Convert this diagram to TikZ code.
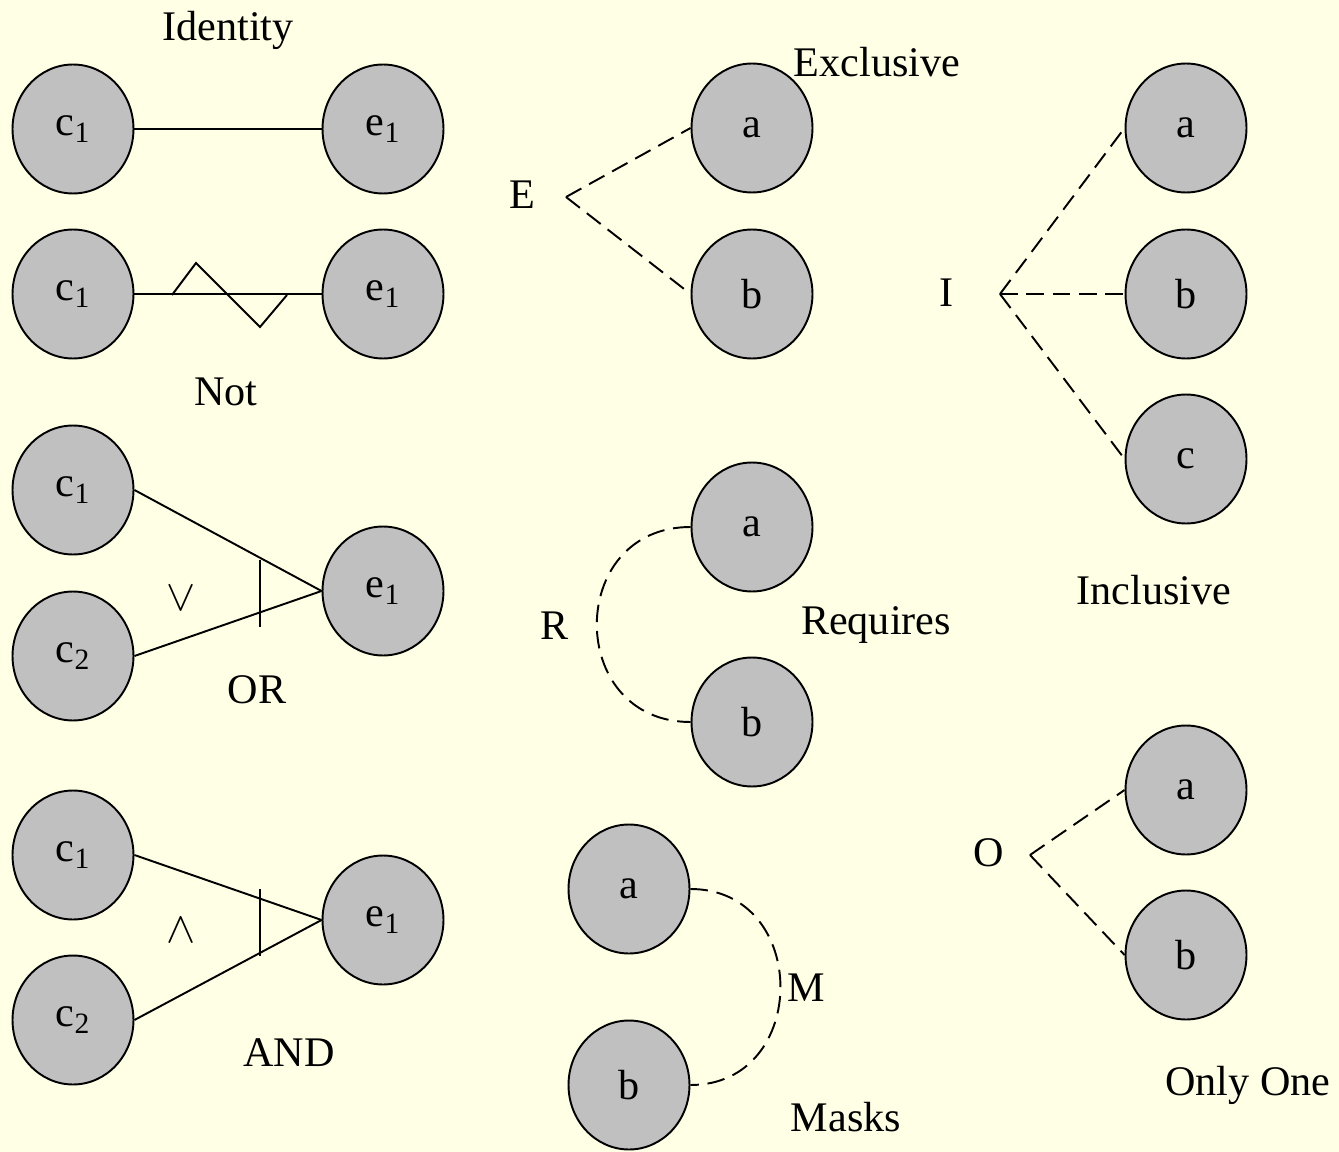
\documentclass[tikz,border=0pt]{standalone}
\usepackage{fontspec}
\setmainfont{Liberation Serif}
\usetikzlibrary{shapes.geometric,calc}
\definecolor{paper}{HTML}{FFFFE6}
\definecolor{ballgray}{HTML}{C0C0C0}

\begin{document}
\begin{tikzpicture}[
  x=0.02cm,y=-0.02cm,
  font=\fontsize{24}{28}\selectfont,
  ball/.style={ellipse,draw=black,fill=ballgray,line width=1.1pt,minimum width=2.42cm,minimum height=2.58cm,inner sep=0pt},
  lbl/.style={inner sep=0pt},
  link/.style={line width=1.1pt},
  dlink/.style={link,dash pattern=on 10pt off 5pt}
]
\fill[paper] (0,0) rectangle (1339,1152);
\useasboundingbox (0,0) rectangle (1339,1152);

% left column: identity, not, or, and
\node[lbl] (tident) at (228,30) {Identity};
\node[ball] (idc) at (73,129) {c\textsubscript{1}};
\node[ball] (ide) at (383,129) {e\textsubscript{1}};
\draw[link] (idc.east) -- (ide.west);

\node[ball] (notc) at (73,294) {c\textsubscript{1}};
\node[ball] (note) at (383,294) {e\textsubscript{1}};
\node[lbl] (tnot) at (226,392) {Not};
\draw[link] (notc.east) -- (note.west);
\draw[link] (172,295) -- (196,263) -- (260,327) -- (287,295);

\node[ball] (orc1) at (73,490) {c\textsubscript{1}};
\node[ball] (orc2) at (73,656) {c\textsubscript{2}};
\node[ball] (ore) at (383,591) {e\textsubscript{1}};
\node[lbl] (torop) at (181,598) {$\vee$};
\node[lbl] (tor) at (257,690) {OR};
\draw[link] (orc1.east) -- (ore.west);
\draw[link] (orc2.east) -- (ore.west);
\draw[link] ($(ore.west)+(-62,-31)$) -- ++(0,67);

\node[ball] (andc1) at (73,855) {c\textsubscript{1}};
\node[ball] (andc2) at (73,1020) {c\textsubscript{2}};
\node[ball] (ande) at (383,920) {e\textsubscript{1}};
\node[lbl] (tandop) at (181,930) {$\wedge$};
\node[lbl] (tand) at (289,1053) {AND};
\draw[link] (andc1.east) -- (ande.west);
\draw[link] (andc2.east) -- (ande.west);
\draw[link] ($(ande.west)+(-62,-31)$) -- ++(0,67);

% middle column: exclusive, requires, masks
\node[ball] (exa) at (752,128) {a};
\node[ball] (exb) at (752,294) {b};
\node[lbl] (tex) at (877,62) {Exclusive};
\node[lbl] (texop) at (522,195) {E};
\coordinate (exv) at (566,197);
\draw[dlink] (exv) -- (exa.west);
\draw[dlink] (exv) -- (exb.west);

\node[ball] (rqa) at (752,527) {a};
\node[ball] (rqb) at (752,722) {b};
\node[lbl] (trq) at (876,625) {Requires};
\node[lbl] (trqop) at (555,626) {R};
\draw[dlink] (rqa.west) .. controls +(-125,0) and +(-125,0) .. (rqb.west);

\node[ball] (mka) at (629,889) {a};
\node[ball] (mkb) at (629,1085) {b};
\node[lbl] (tmkop) at (806,988) {M};
\node[lbl] (tmk) at (846,1117) {Masks};
\draw[dlink] (mka.east) .. controls +(120,0) and +(120,0) .. (mkb.east);

% right column: inclusive, only one
\node[ball] (ina) at (1186,128) {a};
\node[ball] (inb) at (1186,294) {b};
\node[ball] (inc) at (1186,459) {c};
\node[lbl] (tinop) at (947,293) {I};
\node[lbl] (tin) at (1154,590) {Inclusive};
\coordinate (inv) at (1000,294);
\draw[dlink] (inv) -- (ina.west);
\draw[dlink] (inv) -- (inb.west);
\draw[dlink] (inv) -- (inc.west);

\node[ball] (ooa) at (1186,790) {a};
\node[ball] (oob) at (1186,955) {b};
\node[lbl] (tooop) at (989,853) {O};
\node[lbl] (too) at (1248,1085) {Only One};
\coordinate (oov) at (1030,855);
\draw[dlink] (oov) -- (ooa.west);
\draw[dlink] (oov) -- (oob.west);
\end{tikzpicture}
\end{document}
